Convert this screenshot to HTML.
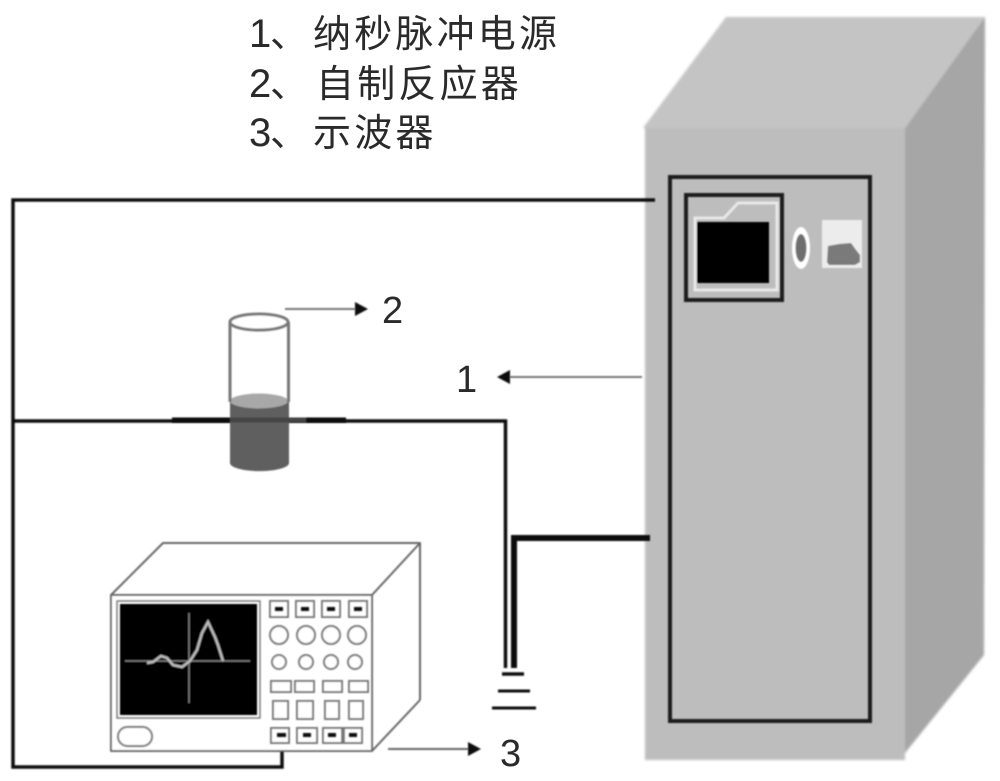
<!DOCTYPE html>
<html lang="zh">
<head>
<meta charset="utf-8">
<style>
html,body{margin:0;padding:0;background:#fff;width:1000px;height:781px;overflow:hidden}
svg{display:block}
text{font-family:"Liberation Sans","Noto Sans CJK SC",sans-serif;fill:#2a2a2a}
.cn{font-size:38px;letter-spacing:3.2px}
.num{font-size:40px}
.big{font-size:38px}
</style>
</head>
<body>
<svg width="1000" height="781" viewBox="0 0 1000 781" xmlns="http://www.w3.org/2000/svg">
<defs>
<filter id="b" x="-5%" y="-5%" width="110%" height="110%"><feGaussianBlur stdDeviation="0.7"/></filter>
<filter id="c" x="-5%" y="-5%" width="110%" height="110%"><feGaussianBlur stdDeviation="1.3"/></filter>
</defs>

<g filter="url(#c)">
<polygon points="643,128 726,17 985,17 905,128" fill="#c4c4c4"/>
<polygon points="905,128 985,17 984,655 905,753" fill="#a6a6a6"/>
<rect x="645" y="128" width="260" height="632" fill="#bdbdbd"/>
</g>
<line x1="645" y1="128" x2="905" y2="128" stroke="#d8d8d8" stroke-width="2" filter="url(#b)"/>
<line x1="905" y1="128" x2="905" y2="758" stroke="#d2d2d2" stroke-width="2" filter="url(#b)"/>

<g filter="url(#b)">
<rect x="670" y="177" width="200" height="544" fill="none" stroke="#1c1c1c" stroke-width="4"/>
<rect x="686" y="195" width="96" height="105" fill="none" stroke="#1c1c1c" stroke-width="4"/>
<path d="M695,218 V290 H777 V203 H738 L724,218 Z" fill="none" stroke="#e8e8e8" stroke-width="3"/>
<rect x="697" y="222" width="72" height="61" fill="#000"/>
<ellipse cx="801" cy="248" rx="9" ry="21" fill="#fff"/>
<ellipse cx="801" cy="248" rx="5.500" ry="14" fill="#6e6e6e"/>
<rect x="822" y="220" width="40" height="48" fill="#ececec"/>
<path d="M828,246 L839,244 L851,243 L856,250 L860,255 V262 L855,265 H829 L827,262 Z" fill="#7a7a7a"/>
</g>

<g fill="none" stroke="#111" filter="url(#b)">
<path d="M655,200 H13 V767 H282 V743" stroke-width="3.500"/>
<path d="M13,421 H505.500 V668" stroke-width="3.500"/>
<path d="M514,668 V538 H650" stroke-width="6"/>
<path d="M502,674 H524" stroke-width="3.500"/>
<path d="M498,691 H530" stroke-width="3"/>
<path d="M492,708 H536" stroke-width="3"/>
</g>

<g filter="url(#b)">
<path d="M230,401 V463 A29,8 0 0 0 289,463 V401 Z" fill="#5e5e5e"/>
<ellipse cx="259" cy="401" rx="29" ry="7.500" fill="#a8a8a8"/>
<path d="M230,322 V402 M288.500,322 V402" fill="none" stroke="#777" stroke-width="3"/>
<ellipse cx="259" cy="322" rx="29" ry="8" fill="#fff" stroke="#777" stroke-width="3"/>
<path d="M172,420 H230 M306,420 H346" stroke="#111" stroke-width="5" fill="none"/>
<path d="M230,420 H306" stroke="#444" stroke-width="5" fill="none"/>
</g>

<g fill="none" stroke="#666" stroke-width="2" filter="url(#b)" stroke-linejoin="round">
<path d="M111,595 L163,543 H420 L372,595"/>
<path d="M420,543 V700 M420,700 L372,751"/>
<rect x="111" y="595" width="261" height="156" fill="#fff"/>
<rect x="117" y="601" width="143" height="117" stroke="#888"/>
</g>
<g filter="url(#b)">
<rect x="120" y="604" width="137" height="111" fill="#000"/>
<path d="M125,661 H250 M189,613 V703" stroke="#888" stroke-width="1.200" fill="none"/>
<polyline points="147,663 153,662 161,656 167,658 173,665 182,667 190,661 197,650 202,633 208,622 215,637 218,645 223,661" fill="none" stroke="#bbb" stroke-width="2.500"/>
</g>
<g fill="#fff" stroke="#777" stroke-width="2" filter="url(#b)">
<rect x="270" y="601" width="18" height="16"/><rect x="296" y="601" width="18" height="16"/><rect x="322" y="601" width="18" height="16"/><rect x="349" y="601" width="18" height="16"/>
<circle cx="279" cy="635" r="9"/><circle cx="306" cy="635" r="9"/><circle cx="331" cy="635" r="9"/><circle cx="357" cy="635" r="9"/>
<circle cx="279" cy="662" r="7"/><circle cx="306" cy="662" r="7"/><circle cx="331" cy="662" r="7"/><circle cx="355" cy="662" r="7"/>
<rect x="271" y="681" width="20" height="11"/><rect x="295" y="681" width="19" height="11"/><rect x="323" y="681" width="19" height="11"/><rect x="349" y="681" width="19" height="11"/>
<rect x="273" y="701" width="15" height="18"/><rect x="297" y="701" width="16" height="18"/><rect x="325" y="701" width="14" height="18"/><rect x="349" y="701" width="14" height="18"/>
<rect x="271" y="728" width="18" height="15"/><rect x="297" y="728" width="20" height="15"/><rect x="323" y="728" width="19" height="15"/><rect x="344" y="728" width="18" height="15"/>
<rect x="118" y="727" width="34" height="19" rx="9.500"/>
</g>
<g fill="#111" filter="url(#b)">
<rect x="275" y="607" width="8" height="4"/><rect x="301" y="607" width="8" height="4"/><rect x="327" y="607" width="8" height="4"/><rect x="354" y="607" width="8" height="4"/>
<rect x="277" y="733" width="9" height="4"/><rect x="303" y="733" width="8" height="4"/><rect x="328" y="733" width="8" height="4"/><rect x="349" y="733" width="8" height="4"/>
</g>
<path d="M282,735 V767" stroke="#111" stroke-width="3" fill="none" filter="url(#b)"/>

<g filter="url(#b)">
<line x1="285" y1="309" x2="356" y2="309" stroke="#777" stroke-width="2"/>
<polygon points="368,309 355,302 355,316" fill="#111"/>
<line x1="642" y1="377" x2="508" y2="377" stroke="#777" stroke-width="2"/>
<polygon points="497,377 510,370 510,384" fill="#111"/>
<line x1="388" y1="749" x2="470" y2="749" stroke="#666" stroke-width="2"/>
<polygon points="481,749 468,742 468,756" fill="#111"/>
</g>

<text class="big" x="382" y="323">2</text>
<text class="big" x="456" y="392">1</text>
<text class="big" x="500" y="766">3</text>

<text class="num" x="249" y="47">1</text><text class="cn" x="270" y="47">、</text><text class="cn" x="313" y="47">纳秒脉冲电源</text>
<text class="num" x="249" y="97">2</text><text class="cn" x="270" y="97">、</text><text class="cn" x="316" y="97">自制反应器</text>
<text class="num" x="249" y="146">3</text><text class="cn" x="270" y="146">、</text><text class="cn" x="313" y="146">示波器</text>
</svg>
</body>
</html>
